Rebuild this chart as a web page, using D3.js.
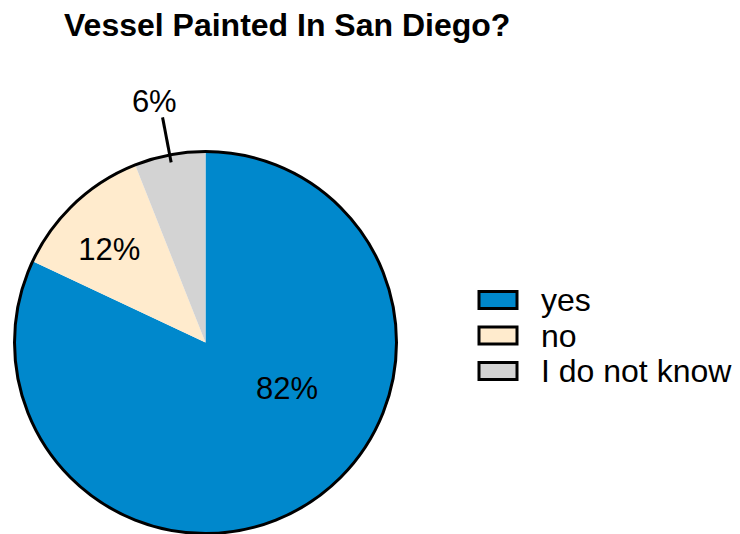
<!DOCTYPE html>
<html><head><meta charset="utf-8">
<script src="https://cdn.jsdelivr.net/npm/d3@7"></script>
<style>body{margin:0;background:#fff}svg{display:block}text{font-family:"Liberation Sans",Arial,sans-serif}</style>
</head><body>
<svg id="c" width="740" height="534"></svg>
<script>
const title = "Vessel Painted In San Diego?";
const categories = ["yes", "no", "I do not know"];
const values = [82, 12, 6];
const labels = ["82%", "12%", "6%"];
const colors = ["#0088cc", "#ffebcd", "#d3d3d3"];
// label placement: angle in degrees clockwise from top, radius fraction, outside?
const labelAngles = [119.4, 314, 348];
const labelRadii = [0.49, 0.70, 1.29];
const labelOutside = [false, false, true];

const svg = d3.select("#c");
const cx = 205.5, cy = 342.5, R = 191;

svg.append("text").attr("x", 64).attr("y", 36)
  .attr("font-size", 32).attr("font-weight", "bold").text(title);

const g = svg.append("g").attr("transform", `translate(${cx},${cy})`);
const pie = d3.pie().sort(null).value(d => d)(values);
const arc = d3.arc().innerRadius(0).outerRadius(R);
g.selectAll("path.s").data(pie).join("path").attr("class", "s")
  .attr("d", arc).attr("fill", (d, i) => colors[i]);
g.append("circle").attr("r", R).attr("fill", "none").attr("stroke", "#000").attr("stroke-width", 3);

const toXY = (deg, r) => {
  const a = deg * Math.PI / 180;
  return [Math.sin(a) * r, -Math.cos(a) * r];
};
labels.forEach((lab, i) => {
  const [x, y] = toXY(labelAngles[i], labelRadii[i] * R);
  if (labelOutside[i]) {
    const mid = (pie[i].startAngle + pie[i].endAngle) / 2 * 180 / Math.PI;
    const [x1, y1] = toXY(mid, R * 0.96);
    const [x2, y2] = toXY(mid, R * 1.2);
    g.append("line").attr("x1", x1).attr("y1", y1).attr("x2", x2).attr("y2", y2)
      .attr("stroke", "#000").attr("stroke-width", 3);
  }
  g.append("text").attr("x", x).attr("y", y).attr("text-anchor", "middle")
    .attr("dominant-baseline", "central").attr("font-size", 31).text(lab);
});

const leg = svg.append("g").attr("transform", "translate(479,300)");
categories.forEach((c, i) => {
  const y = i * 35.5;
  leg.append("rect").attr("x", 0).attr("y", y - 8.5).attr("width", 38).attr("height", 17)
    .attr("fill", colors[i]).attr("stroke", "#000").attr("stroke-width", 3);
  leg.append("text").attr("x", 62).attr("y", y + 11).attr("font-size", 32).text(c);
});
</script>
</body></html>
